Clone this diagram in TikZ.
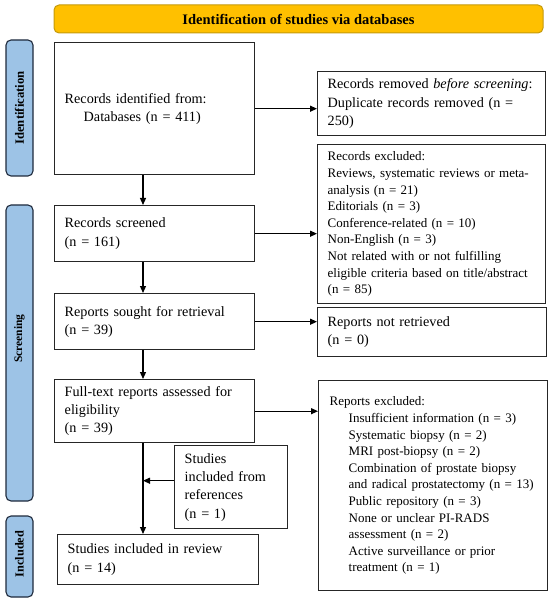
\documentclass[tikz,border=0pt]{standalone}
\usepackage{fontspec}
\setmainfont{Liberation Serif}
\usetikzlibrary{arrows.meta,calc}
\definecolor{gold}{HTML}{FFC000}
\definecolor{goldline}{HTML}{C49A0C}
\definecolor{sideblue}{HTML}{9DC3E6}
\definecolor{sideline}{HTML}{1F2A3C}
\tikzset{
  box/.style={draw=black!85, line width=1.4pt, anchor=north west, inner xsep=10pt, inner ysep=0pt,
    align=left, font=\fontsize{14.2}{18.3}\selectfont},
  smallbox/.style={box, font=\fontsize{13}{16.6}\selectfont},
  side/.style={draw=sideline, fill=sideblue, rounded corners=5pt, line width=1.1pt, rotate=90,
    inner sep=0pt, font=\bfseries\fontsize{12.7}{14}\selectfont},
  sidetext/.style={rotate=90, inner sep=0pt, font=\bfseries\fontsize{11.5}{13}\selectfont},
  banner/.style={draw=goldline, fill=gold, rounded corners=5pt, line width=1pt, inner sep=0pt,
    font=\bfseries\fontsize{14.5}{16}\selectfont},
  arr/.style={-{Triangle[length=7pt,width=6pt]}, line width=1.2pt},
}
\begin{document}
\begin{tikzpicture}[x=1pt,y=-1pt]
\useasboundingbox (0,0) rectangle (550,601);
% banner
\node[banner, minimum width=489pt, minimum height=28pt] (ban) at (298.5,19) {Identification of studies via databases};
% side labels
\node[side, minimum width=136pt, minimum height=27pt] (sid1) at (19.5,108) {Identification};
\node[side, minimum width=296pt, minimum height=27pt] (sid2) at (19.5,353) {};
\node[sidetext] (sid2t) at (19.5,338.5) {Screening};
\node[side, minimum width=81pt, minimum height=27pt] (sid3) at (19.5,556.5) {};
\node[sidetext, font=\bfseries\fontsize{12.3}{13}\selectfont] (sid3t) at (19.5,554) {Included};
% spine
\coordinate (spine) at (143,0);
% main boxes
\node[box, text width=180pt, minimum height=132pt] (A) at (54,42)
  {Records identified from:\\\hspace*{19pt}Databases (n = 411)\\[4pt]};
\node[box, text width=180pt, minimum height=56pt] (C) at (54,205)
  {Records screened\\(n = 161)};
\node[box, text width=180pt, minimum height=56pt] (E) at (54,293)
  {Reports sought for retrieval\\(n = 39)};
\node[box, text width=180pt, minimum height=63pt] (G) at (54,379)
  {Full-text reports assessed for\\eligibility\\(n = 39)};
\node[box, text width=181pt, minimum height=50pt] (J) at (57,534)
  {Studies included in review\\(n = 14)};
\node[box, text width=93pt, minimum height=83pt] (I) at (174,445)
  {Studies\\included from\\references\\(n = 1)};
% right boxes
\node[box, text width=208pt, minimum height=64pt] (B) at (317,71)
  {Records removed \emph{before screening}:\\Duplicate records removed (n =\\250)};
\node[smallbox, text width=208pt, minimum height=159pt] (D) at (317,144)
  {Records excluded:\\
   Reviews, systematic reviews or meta-\\
   analysis (n = 21)\\
   Editorials (n = 3)\\
   Conference-related (n = 10)\\
   Non-English (n = 3)\\
   Not related with or not fulfilling\\
   eligible criteria based on title/abstract\\
   (n = 85)};
\node[box, text width=209pt, minimum height=49pt] (F) at (317,307)
  {Reports not retrieved\\(n = 0)};
\node[smallbox, text width=207pt, inner xsep=11pt, minimum height=210pt] (H) at (318,380)
  {Reports excluded:\\
   \hspace*{19pt}Insufficient information (n = 3)\\
   \hspace*{19pt}Systematic biopsy (n = 2)\\
   \hspace*{19pt}MRI post-biopsy (n = 2)\\
   \hspace*{19pt}Combination of prostate biopsy\\
   \hspace*{19pt}and radical prostatectomy (n = 13)\\
   \hspace*{19pt}Public repository (n = 3)\\
   \hspace*{19pt}None or unclear PI-RADS\\
   \hspace*{19pt}assessment (n = 2)\\
   \hspace*{19pt}Active surveillance or prior\\
   \hspace*{19pt}treatment (n = 1)\\[8pt]};
% connectors
\draw[arr] (A.east) -- (A.east -| B.west);
\draw[arr] (C.east) -- (C.east -| D.west);
\draw[arr] (E.east) -- (E.east -| F.west);
\draw[arr] (G.east) -- (G.east -| H.west);
\draw[arr] (A.south -| spine) -- (C.north -| spine);
\draw[arr] (C.south -| spine) -- (E.north -| spine);
\draw[arr] (E.south -| spine) -- (G.north -| spine);
\draw[arr] (G.south -| spine) -- (J.north -| spine);
\draw[arr] ([yshift=6.5pt]I.west) -- ([yshift=6.5pt]I.west -| spine);
\end{tikzpicture}
\end{document}
